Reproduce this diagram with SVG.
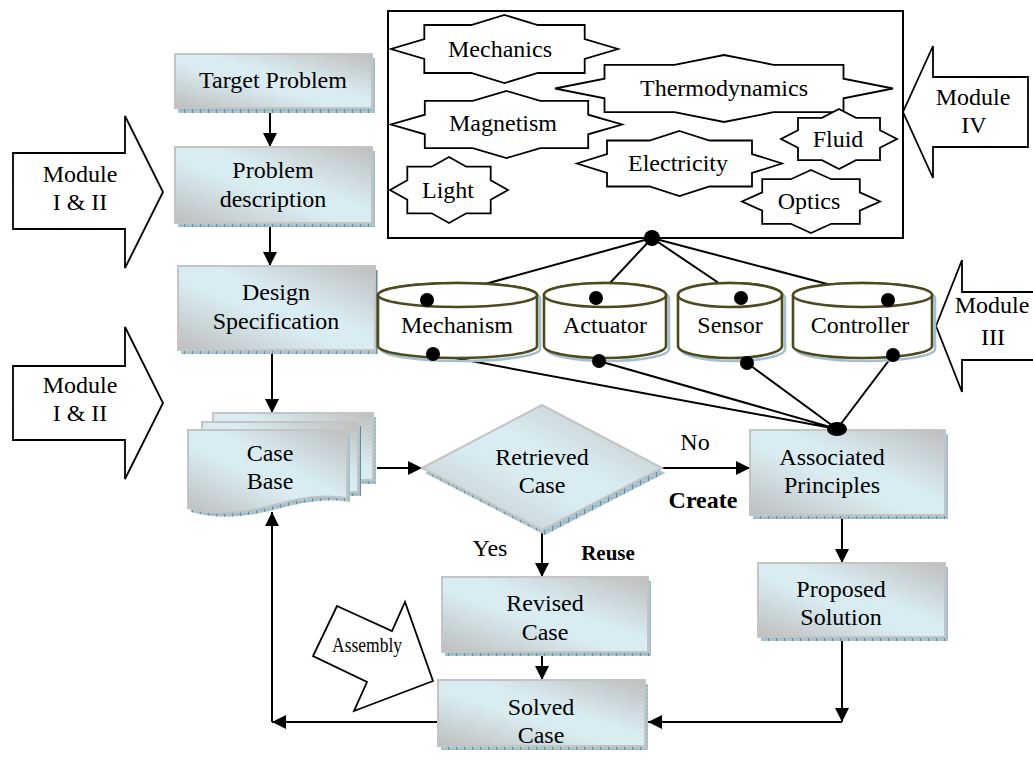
<svg xmlns="http://www.w3.org/2000/svg" width="1033" height="758" viewBox="0 0 1033 758">
<defs>
  <linearGradient id="fillGrad" x1="0" y1="1" x2="1" y2="0">
    <stop offset="0" stop-color="#bebebe"/>
    <stop offset="0.42" stop-color="#d9ecf2"/>
    <stop offset="0.58" stop-color="#d9ecf2"/>
    <stop offset="1" stop-color="#bebebe"/>
  </linearGradient>
  <pattern id="hatch" width="8" height="4" patternUnits="userSpaceOnUse">
    <rect width="8" height="4" fill="#a9c6d1"/>
    <line x1="0.5" y1="0" x2="0.5" y2="4" stroke="#5d8797" stroke-width="1"/>
    <line x1="0" y1="2" x2="8" y2="2" stroke="#7ea5b4" stroke-width="0.6"/>
  </pattern>
  <marker id="arrow" markerUnits="userSpaceOnUse" markerWidth="14" markerHeight="14" viewBox="0 0 14 14" refX="14" refY="7" orient="auto">
    <path d="M0,0 L14,7 L0,14 Z" fill="#000"/>
  </marker>
</defs>
<style>
  .box { fill: url(#fillGrad); stroke: #c4c4c4; stroke-width: 2; }
  .sh { fill: url(#hatch); }
  .t { font-family: "Liberation Serif", "Times New Roman", serif; font-size: 24px; text-anchor: middle; fill: #000; }
  .b { font-weight: bold; }
  .ln { stroke: #000; stroke-width: 2; fill: none; }
  .arr { stroke: #000; stroke-width: 2; fill: none; marker-end: url(#arrow); }
  .star { fill: #fff; stroke: #000; stroke-width: 1.8; stroke-linejoin: miter; }
  .mod { fill: #fff; stroke: #000; stroke-width: 1.8; stroke-linejoin: miter; }
  .cyl { fill: #fff; stroke: #4d4a1e; stroke-width: 2.6; }
  .cylsh { fill: none; stroke: #a3c1cc; stroke-width: 2.6; }
  .dot { fill: #000; }
</style>

<!-- domain knowledge panel -->
<g id="knowledge-panel">
  <rect x="388" y="11" width="515" height="227" fill="#fff" stroke="#000" stroke-width="2"/>
  <g id="mechanics">
    <polygon class="star" points="504.5,15 537.8,25 584.7,25 584.7,39 618,49 584.7,59 584.7,73 537.8,73 504.5,83 471.2,73 424.3,73 424.3,59 391,49 424.3,39 424.3,25 471.2,25"/>
    <text class="t" x="500" y="57">Mechanics</text>
  </g>
  <g id="thermodynamics">
    <polygon class="star" points="724,55 773.5,64.8 843.5,64.8 843.5,78.7 893,88.5 843.5,98.3 843.5,112.2 773.5,112.2 724,122 674.5,112.2 604.5,112.2 604.5,98.3 555,88.5 604.5,78.7 604.5,64.8 674.5,64.8"/>
    <text class="t" x="724" y="96">Thermodynamics</text>
  </g>
  <g id="magnetism">
    <polygon class="star" points="506.5,91 540.3,100.8 588.2,100.8 588.2,114.7 622,124.5 588.2,134.3 588.2,148.2 540.3,148.2 506.5,158 472.7,148.2 424.8,148.2 424.8,134.3 391,124.5 424.8,114.7 424.8,100.8 472.7,100.8"/>
    <text class="t" x="503" y="131">Magnetism</text>
  </g>
  <g id="fluid">
    <polygon class="star" points="839,109 856,117.8 880,117.8 880,130.2 897,139 880,147.8 880,160.2 856,160.2 839,169 822,160.2 798,160.2 798,147.8 781,139 798,130.2 798,117.8 822,117.8"/>
    <text class="t" x="838" y="147">Fluid</text>
  </g>
  <g id="electricity">
    <polygon class="star" points="679.5,131 709.5,140.5 752,140.5 752,154 782,163.5 752,173 752,186.5 709.5,186.5 679.5,196 649.5,186.5 607,186.5 607,173 577,163.5 607,154 607,140.5 649.5,140.5"/>
    <text class="t" x="678" y="171">Electricity</text>
  </g>
  <g id="light">
    <polygon class="star" points="449,157 466.3,166.7 490.7,166.7 490.7,180.3 508,190 490.7,199.7 490.7,213.3 466.3,213.3 449,223 431.7,213.3 407.3,213.3 407.3,199.7 390,190 407.3,180.3 407.3,166.7 431.7,166.7"/>
    <text class="t" x="448" y="198">Light</text>
  </g>
  <g id="optics">
    <polygon class="star" points="811,170 831.2,179.2 859.8,179.2 859.8,192.3 880,201.5 859.8,210.7 859.8,223.8 831.2,223.8 811,233 790.8,223.8 762.2,223.8 762.2,210.7 742,201.5 762.2,192.3 762.2,179.2 790.8,179.2"/>
    <text class="t" x="809" y="209">Optics</text>
  </g>
</g>

<!-- module call-out arrows -->
<g id="module-1-2-top">
  <polygon class="mod" points="13,153 125,153 125,116 163,192 125,268 125,229 13,229"/>
  <text class="t" x="80" y="182">Module</text>
  <text class="t" x="80" y="210">I &amp; II</text>
</g>
<g id="module-1-2-bottom">
  <polygon class="mod" points="13,366 125,366 125,327 163,403 125,479 125,440 13,440"/>
  <text class="t" x="80" y="393">Module</text>
  <text class="t" x="80" y="421">I &amp; II</text>
</g>
<g id="module-4">
  <polygon class="mod" points="1028,77 933,77 933,46 903,112 933,178 933,147 1028,147"/>
  <text class="t" x="973" y="105">Module</text>
  <text class="t" x="974" y="133">IV</text>
</g>
<g id="module-3">
  <polygon class="mod" points="1040,292 962,292 962,260 936,326 962,392 962,360 1040,360"/>
  <text class="t" x="992" y="313">Module</text>
  <text class="t" x="993" y="345">III</text>
</g>

<!-- connectors -->
<g id="connectors">
  <path class="arr" d="M270,108 V147"/>
  <path class="arr" d="M270,223 V266"/>
  <path class="arr" d="M272,350 V413"/>
  <path class="arr" d="M377,468 H422"/>
  <path class="arr" d="M662,468 H750"/>
  <path class="arr" d="M542,530 V577"/>
  <path class="arr" d="M542,652 V680"/>
  <path class="arr" d="M842,515 V563"/>
  <path class="arr" d="M842,637 V722"/>
  <path class="arr" d="M842,722 H648"/>
  <path class="arr" d="M438,722 H272"/>
  <path class="arr" d="M272,722 V512"/>
  <!-- panel hub to component libraries -->
  <path class="ln" d="M652,238 L427,300 M652,238 L596,298 M652,238 L741,298 M652,238 L888,300"/>
  <!-- component libraries to associated principles -->
  <path class="ln" d="M433,354 L837,429 M599,361 L837,429 M747,363 L837,429 M893,355 L837,429"/>
</g>

<!-- flow nodes -->
<g id="target-problem">
  <rect class="sh" x="178" y="58" width="197" height="55"/>
  <rect class="box" x="175" y="54" width="197" height="54"/>
  <text class="t" x="273" y="88">Target Problem</text>
</g>
<g id="problem-description">
  <rect class="sh" x="178" y="151" width="197" height="76"/>
  <rect class="box" x="175" y="147" width="197" height="76"/>
  <text class="t" x="273" y="178">Problem</text>
  <text class="t" x="273" y="207">description</text>
</g>
<g id="design-specification">
  <rect class="sh" x="181" y="270" width="197" height="84"/>
  <rect class="box" x="178" y="266" width="197" height="84"/>
  <text class="t" x="276" y="300">Design</text>
  <text class="t" x="276" y="329">Specification</text>
</g>
<g id="case-base">
  <rect class="sh" x="216" y="417" width="160" height="67"/>
  <rect class="box" x="213" y="413" width="160" height="67"/>
  <rect class="sh" x="205" y="426" width="156" height="70"/>
  <rect class="box" x="202" y="422" width="156" height="70"/>
  <path class="sh" d="M191,434 H350 V502 C325,498 303,502 273,510 C243,518 215,519 191,512 Z"/>
  <path class="box" d="M188,430 H347 V498 C322,494 300,498 270,506 C240,514 212,515 188,508 Z"/>
  <text class="t" x="270" y="461">Case</text>
  <text class="t" x="270" y="489">Base</text>
</g>
<g id="retrieved-case">
  <polygon class="sh" points="425,473 545,410 665,473 545,535"/>
  <polygon class="box" points="422,468 542,405 662,468 542,530"/>
  <text class="t" x="542" y="465">Retrieved</text>
  <text class="t" x="542" y="493">Case</text>
</g>
<g id="labels">
  <text class="t" x="695" y="450">No</text>
  <text class="t b" x="703" y="508">Create</text>
  <text class="t" x="490" y="556">Yes</text>
  <text class="t b" x="608" y="560" style="font-size:21px">Reuse</text>
</g>
<g id="associated-principles">
  <rect class="sh" x="753" y="434" width="195" height="85"/>
  <rect class="box" x="750" y="430" width="195" height="85"/>
  <text class="t" x="832" y="465">Associated</text>
  <text class="t" x="832" y="493">Principles</text>
</g>
<g id="proposed-solution">
  <rect class="sh" x="761" y="567" width="187" height="74"/>
  <rect class="box" x="758" y="563" width="187" height="74"/>
  <text class="t" x="841" y="597">Proposed</text>
  <text class="t" x="841" y="625">Solution</text>
</g>
<g id="revised-case">
  <rect class="sh" x="445" y="581" width="206" height="75"/>
  <rect class="box" x="442" y="577" width="206" height="75"/>
  <text class="t" x="545" y="611">Revised</text>
  <text class="t" x="545" y="640">Case</text>
</g>
<g id="solved-case">
  <rect class="sh" x="441" y="684" width="207" height="66"/>
  <rect class="box" x="438" y="680" width="207" height="66"/>
  <text class="t" x="541" y="715">Solved</text>
  <text class="t" x="541" y="743">Case</text>
</g>
<g id="assembly">
  <polygon class="mod" points="337,606 392,631 405,602 433,681 354,711 367,682 313,656"/>
  <text class="t" x="367" y="652" style="font-size:20px" textLength="70" lengthAdjust="spacingAndGlyphs">Assembly</text>
</g>

<!-- component libraries -->
<g id="mechanism">
  <path class="cylsh" d="M381,298 A79.5,12 0 0 1 540,298 V349 A79.5,12 0 0 1 381,349 Z"/>
  <path class="cyl" d="M378,295 A79.5,12 0 0 1 537,295 V346 A79.5,12 0 0 1 378,346 Z"/>
  <ellipse class="cyl" cx="457.5" cy="295" rx="79.5" ry="12"/>
  <text class="t" x="457" y="333">Mechanism</text>
</g>
<g id="actuator">
  <path class="cylsh" d="M547,298 A61,12 0 0 1 669,298 V349 A61,12 0 0 1 547,349 Z"/>
  <path class="cyl" d="M544,295 A61,12 0 0 1 666,295 V346 A61,12 0 0 1 544,346 Z"/>
  <ellipse class="cyl" cx="605" cy="295" rx="61" ry="12"/>
  <text class="t" x="605" y="333">Actuator</text>
</g>
<g id="sensor">
  <path class="cylsh" d="M681,298 A52,12 0 0 1 785,298 V349 A52,12 0 0 1 681,349 Z"/>
  <path class="cyl" d="M678,295 A52,12 0 0 1 782,295 V346 A52,12 0 0 1 678,346 Z"/>
  <ellipse class="cyl" cx="730" cy="295" rx="52" ry="12"/>
  <text class="t" x="730" y="333">Sensor</text>
</g>
<g id="controller">
  <path class="cylsh" d="M796,298 A69.5,12 0 0 1 935,298 V349 A69.5,12 0 0 1 796,349 Z"/>
  <path class="cyl" d="M793,295 A69.5,12 0 0 1 932,295 V346 A69.5,12 0 0 1 793,346 Z"/>
  <ellipse class="cyl" cx="862.5" cy="295" rx="69.5" ry="12"/>
  <text class="t" x="860" y="333">Controller</text>
</g>

<!-- junction dots -->
<g id="junctions">
  <circle class="dot" cx="652" cy="238" r="8"/>
  <circle class="dot" cx="427" cy="300" r="7"/>
  <circle class="dot" cx="596" cy="298" r="7"/>
  <circle class="dot" cx="741" cy="298" r="7"/>
  <circle class="dot" cx="888" cy="300" r="7"/>
  <circle class="dot" cx="433" cy="354" r="7"/>
  <circle class="dot" cx="599" cy="361" r="7"/>
  <circle class="dot" cx="747" cy="363" r="7"/>
  <circle class="dot" cx="893" cy="355" r="7"/>
  <ellipse class="dot" cx="837" cy="429" rx="10" ry="7"/>
</g>
</svg>
